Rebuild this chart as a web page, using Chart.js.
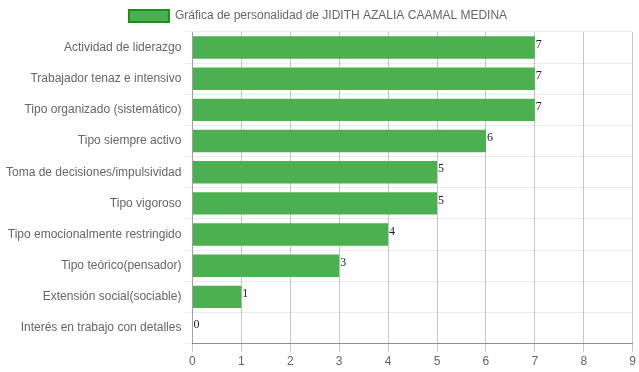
<!DOCTYPE html>
<html>
<head>
<meta charset="utf-8">
<script src="https://cdn.jsdelivr.net/npm/chart.js@4"></script>
<style>
  html, body { margin: 0; padding: 0; background: #fff; }
  #wrap { width: 639px; height: 372px; }
</style>
</head>
<body>
<div id="wrap"><canvas id="myChart"></canvas></div>
<script>
var rasgos = [
    'Actividad de liderazgo',
    'Trabajador tenaz e intensivo',
    'Tipo organizado (sistemático)',
    'Tipo siempre activo',
    'Toma de decisiones/impulsividad',
    'Tipo vigoroso',
    'Tipo emocionalmente restringido',
    'Tipo teórico(pensador)',
    'Extensión social(sociable)',
    'Interés en trabajo con detalles'
];
var puntajes = [7, 7, 7, 6, 5, 5, 4, 3, 1, 0];
var titulo = 'Gráfica de personalidad de JIDITH AZALIA CAAMAL MEDINA';

Chart.defaults.font.family = "'Liberation Sans', Arial, sans-serif";
Chart.defaults.font.size = 12;
Chart.defaults.color = '#666';

// numeritos al final de cada barra
var valoresPlugin = {
    id: 'valores',
    afterDraw: function (chart) {
        var ctx = chart.ctx;
        var meta = chart.getDatasetMeta(0);
        ctx.save();
        ctx.font = "12px 'Liberation Serif', 'Times New Roman', serif";
        ctx.fillStyle = '#222';
        ctx.textAlign = 'left';
        ctx.textBaseline = 'middle';
        meta.data.forEach(function (bar, i) {
            ctx.fillText(puntajes[i], bar.x + 1, bar.y - 3);
        });
        ctx.restore();
    }
};

var ctx = document.getElementById('myChart').getContext('2d');
var chart = new Chart(ctx, {
    type: 'bar',
    data: {
        labels: rasgos,
        datasets: [{
            label: titulo,
            data: puntajes,
            backgroundColor: '#4CAF50',
            borderColor: '#1E8C1E',
            borderWidth: 0
        }]
    },
    options: {
        indexAxis: 'y',
        responsive: true,
        maintainAspectRatio: false,
        animation: false,
        layout: { padding: { left: 3, right: 6 } },
        plugins: {
            legend: {
                labels: {
                    boxWidth: 40,
                    generateLabels: function (chart) {
                        var items = Chart.defaults.plugins.legend.labels.generateLabels(chart);
                        items.forEach(function (it) {
                            it.lineWidth = 2;
                            it.strokeStyle = '#1E8C1E';
                        });
                        return items;
                    }
                }
            },
            tooltip: { enabled: false }
        },
        scales: {
            x: {
                min: 0,
                max: 9,
                z: 1,
                ticks: { stepSize: 1 },
                grid: { color: 'rgba(0,0,0,0.22)' },
                border: { color: 'rgba(0,0,0,0.4)' }
            },
            y: {
                grid: { color: 'rgba(0,0,0,0.07)' },
                border: { color: 'rgba(0,0,0,0.2)' }
            }
        }
    },
    plugins: [valoresPlugin]
});
</script>
</body>
</html>
